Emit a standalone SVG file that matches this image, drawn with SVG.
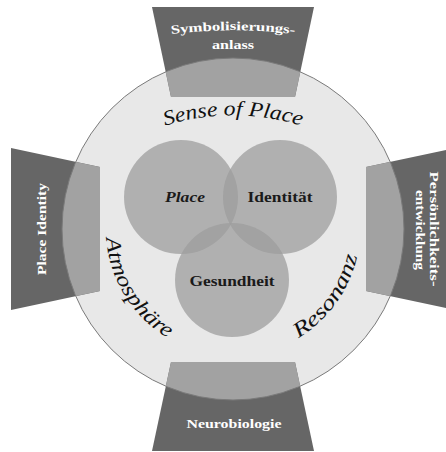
<svg xmlns="http://www.w3.org/2000/svg" width="446" height="452" viewBox="0 0 446 452">
  <style>
    .ring { fill: #e8e8e8; }
    .ring-edge { fill: none; stroke: #7a7a7a; stroke-width: 1; }
    .tab { fill: #666666; }
    .tab-in { fill: #a2a2a2; }
    .venn { fill: #9c9c9c; fill-opacity: 0.74; }
    .tab-label { font-family: "Liberation Serif", "DejaVu Serif", serif; font-weight: bold; font-size: 12.5px; fill: #ffffff; text-anchor: middle; }
    .core-label { font-family: "Liberation Serif", "DejaVu Serif", serif; font-weight: bold; font-size: 15px; fill: #1a1a1a; text-anchor: middle; }
    .arc-label { font-family: "Liberation Serif", "DejaVu Serif", serif; font-style: italic; font-size: 21px; fill: #111111; }
  </style>
  <defs>
    <clipPath id="disc">
      <circle cx="233" cy="229" r="171"/>
    </clipPath>
    <!-- baseline paths for the curved labels -->
    <path id="topArc" d="M158,128 A230,230 0 0 1 308,128"/>
    <path id="lowArc" d="M106,229 A127,127 0 0 0 360,229"/>
    <path id="symArc" d="M168,34.5 A500,500 0 0 1 298,34.5"/>
  </defs>

  <!-- main disc -->
  <g id="disc-main">
    <circle class="ring" cx="233" cy="229" r="171"/>
  </g>

  <!-- four tabs: dark outside the disc, lighter where they overlap it -->
  <g id="tab-top">
    <polygon class="tab" points="152,7 314,7 295,97 171,97"/>
    <polygon class="tab-in" clip-path="url(#disc)" points="152,7 314,7 295,97 171,97"/>
    <text class="tab-label"><textPath href="#symArc" startOffset="50%" textLength="124" lengthAdjust="spacingAndGlyphs">Symbolisierungs-</textPath></text>
    <text class="tab-label" x="233" y="48.5" textLength="42" lengthAdjust="spacingAndGlyphs">anlass</text>
  </g>
  <g id="tab-left">
    <polygon class="tab" points="11,148 11,310 100,291 100,167"/>
    <polygon class="tab-in" clip-path="url(#disc)" points="11,148 11,310 100,291 100,167"/>
    <text class="tab-label" transform="translate(46,229) rotate(-90)" textLength="92" lengthAdjust="spacingAndGlyphs">Place Identity</text>
  </g>
  <g id="tab-right">
    <polygon class="tab" points="455,148 455,310 366,291 366,167"/>
    <polygon class="tab-in" clip-path="url(#disc)" points="455,148 455,310 366,291 366,167"/>
    <text class="tab-label" transform="translate(430,229) rotate(90)" textLength="115" lengthAdjust="spacingAndGlyphs">Persönlichkeits-</text>
    <text class="tab-label" transform="translate(416,230) rotate(90)" textLength="80" lengthAdjust="spacingAndGlyphs">entwicklung</text>
  </g>
  <g id="tab-bottom">
    <polygon class="tab" points="152,451 314,451 295,362 171,362"/>
    <polygon class="tab-in" clip-path="url(#disc)" points="152,451 314,451 295,362 171,362"/>
    <text class="tab-label" x="234" y="428" textLength="95" lengthAdjust="spacingAndGlyphs">Neurobiologie</text>
  </g>

  <!-- disc outline on top -->
  <circle class="ring-edge" cx="233" cy="229" r="171"/>

  <!-- curved ring labels -->
  <g id="ring-labels">
    <text class="arc-label"><textPath href="#topArc" startOffset="50%" text-anchor="middle" textLength="138" lengthAdjust="spacingAndGlyphs">Sense of Place</textPath></text>
    <text class="arc-label"><textPath href="#lowArc" startOffset="9" textLength="122" lengthAdjust="spacingAndGlyphs">Atmosphäre</textPath></text>
    <text class="arc-label"><textPath href="#lowArc" startOffset="268" textLength="104" lengthAdjust="spacingAndGlyphs">Resonanz</textPath></text>
  </g>

  <!-- three overlapping core circles -->
  <g id="core-place">
    <circle class="venn" cx="181" cy="197" r="57"/>
  </g>
  <g id="core-identity">
    <circle class="venn" cx="280" cy="197" r="57"/>
  </g>
  <g id="core-health">
    <circle class="venn" cx="232" cy="280" r="57"/>
  </g>
  <g id="core-labels">
    <text class="core-label" x="185" y="202" font-style="italic" textLength="40" lengthAdjust="spacingAndGlyphs">Place</text>
    <text class="core-label" x="280" y="202" textLength="65" lengthAdjust="spacingAndGlyphs">Identität</text>
    <text class="core-label" x="232" y="286" textLength="85" lengthAdjust="spacingAndGlyphs">Gesundheit</text>
  </g>
</svg>
